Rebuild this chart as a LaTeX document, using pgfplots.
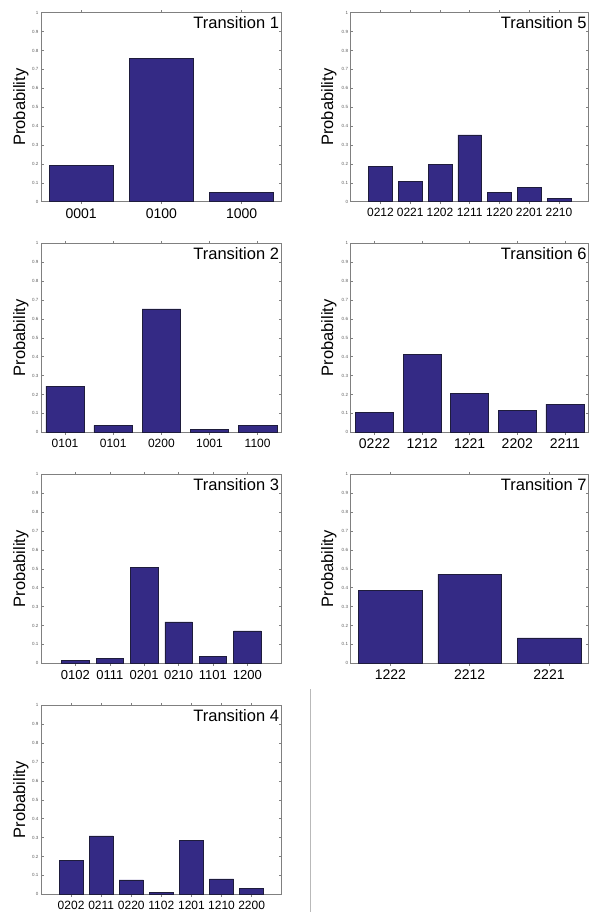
\documentclass[border=0pt]{standalone}
\usepackage{pgfplots}
\pgfplotsset{compat=1.18}
\usepackage{fontspec}
\setmainfont{Liberation Sans}
\definecolor{barblue}{RGB}{52,42,133}
\definecolor{bardark}{RGB}{30,28,60}
\definecolor{axisgray}{RGB}{128,128,128}
\definecolor{ticktext}{RGB}{90,90,90}
\definecolor{sepgray}{RGB}{185,185,185}
\pgfplotsset{
  base/.style={
    scale only axis, height=189pt, anchor=south west,
    ymin=0, ymax=1,
    ytick={0,0.1,0.2,0.3,0.4,0.5,0.6,0.7,0.8,0.9,1},
    yticklabels={0,0.1,0.2,0.3,0.4,0.5,0.6,0.7,0.8,0.9,1},
    axis line style={draw=axisgray, line width=0.8pt},
    tick style={draw=axisgray, line width=0.5pt},
    tick align=inside, major tick length=2.5pt,
    yticklabel style={font=\fontsize{4.5}{5}\selectfont, text=ticktext, inner sep=0pt, xshift=-2.5pt},
    xtick=data,
    xticklabel style={inner sep=0pt, yshift=-4pt},
    /pgf/number format/assume math mode=true,
    ybar, bar width=0.8,
  },
  lcol/.style={width=240.7pt},
  rcol/.style={width=238pt},
  barstyle/.style={fill=barblue, draw=bardark, line width=0.5pt},
}
\tikzset{
  ttl/.style={anchor=north east, inner sep=0pt, font=\fontsize{16.5}{18}\selectfont},
  ylab/.style={rotate=90, anchor=base, inner sep=0pt, font=\fontsize{16.5}{18}\selectfont},
}
\begin{document}
\begin{tikzpicture}
\path[use as bounding box] (0,0) rectangle (589pt,912pt);
% Transition 1
\begin{axis}[base, lcol, name=p1, at={(41pt,710.3pt)}, xmin=0.5, xmax=3.5,
  xticklabels={0001,0100,1000}, xticklabel style={font=\fontsize{14}{16}\selectfont}]
\addplot[barstyle] coordinates {(1,0.192) (2,0.757) (3,0.051)};
\end{axis}
\node[ttl] at ([xshift=-2.5pt,yshift=-3.7pt]p1.north east) {Transition 1};
\node[ylab] at ([xshift=-16pt]p1.west) {Probability};
% Transition 5
\begin{axis}[base, rcol, name=p5, at={(350.7pt,710.3pt)}, xmin=0, xmax=8,
  xticklabels={0212,0221,1202,1211,1220,2201,2210}, xticklabel style={font=\fontsize{12}{14}\selectfont}]
\addplot[barstyle] coordinates {(1,0.188) (2,0.109) (3,0.199) (4,0.354) (5,0.048) (6,0.074) (7,0.016)};
\end{axis}
\node[ttl] at ([xshift=-2pt,yshift=-3.7pt]p5.north east) {Transition 5};
\node[ylab] at ([xshift=-17.5pt]p5.west) {Probability};
% Transition 2
\begin{axis}[base, lcol, name=p2, at={(41pt,479.7pt)}, xmin=0.5, xmax=5.5,
  xticklabels={0101,0101,0200,1001,1100}, xticklabel style={font=\fontsize{12}{14}\selectfont}]
\addplot[barstyle] coordinates {(1,0.244) (2,0.037) (3,0.653) (4,0.014) (5,0.037)};
\end{axis}
\node[ttl] at ([xshift=-2.5pt,yshift=-3.7pt]p2.north east) {Transition 2};
\node[ylab] at ([xshift=-16pt]p2.west) {Probability};
% Transition 6
\begin{axis}[base, rcol, name=p6, at={(350.7pt,479.7pt)}, xmin=0.5, xmax=5.5,
  xticklabels={0222,1212,1221,2202,2211}, xticklabel style={font=\fontsize{14}{16}\selectfont}]
\addplot[barstyle] coordinates {(1,0.106) (2,0.412) (3,0.207) (4,0.115) (5,0.149)};
\end{axis}
\node[ttl] at ([xshift=-2pt,yshift=-3.7pt]p6.north east) {Transition 6};
\node[ylab] at ([xshift=-17.5pt]p6.west) {Probability};
% Transition 3
\begin{axis}[base, lcol, name=p3, at={(41pt,248.7pt)}, xmin=0, xmax=7,
  xticklabels={0102,0111,0201,0210,1101,1200}, xticklabel style={font=\fontsize{13}{15}\selectfont}]
\addplot[barstyle] coordinates {(1,0.016) (2,0.028) (3,0.509) (4,0.219) (5,0.035) (6,0.171)};
\end{axis}
\node[ttl] at ([xshift=-2.5pt,yshift=-3.7pt]p3.north east) {Transition 3};
\node[ylab] at ([xshift=-16pt]p3.west) {Probability};
% Transition 7
\begin{axis}[base, rcol, name=p7, at={(350.7pt,248.7pt)}, xmin=0.5, xmax=3.5,
  xticklabels={1222,2212,2221}, xticklabel style={font=\fontsize{14}{16}\selectfont}]
\addplot[barstyle] coordinates {(1,0.387) (2,0.472) (3,0.134)};
\end{axis}
\node[ttl] at ([xshift=-2pt,yshift=-3.7pt]p7.north east) {Transition 7};
\node[ylab] at ([xshift=-17.5pt]p7.west) {Probability};
% Transition 4
\begin{axis}[base, lcol, name=p4, at={(41pt,17.7pt)}, xmin=0, xmax=8,
  xticklabels={0202,0211,0220,1102,1201,1210,2200}, xticklabel style={font=\fontsize{12}{14}\selectfont}]
\addplot[barstyle] coordinates {(1,0.178) (2,0.309) (3,0.076) (4,0.011) (5,0.286) (6,0.081) (7,0.030)};
\end{axis}
\node[ttl] at ([xshift=-2.5pt,yshift=-3.7pt]p4.north east) {Transition 4};
\node[ylab] at ([xshift=-16pt]p4.west) {Probability};
% separator
\draw[sepgray, line width=0.8pt] (310.3pt,0pt) -- (310.3pt,223pt);
\end{tikzpicture}
\end{document}
